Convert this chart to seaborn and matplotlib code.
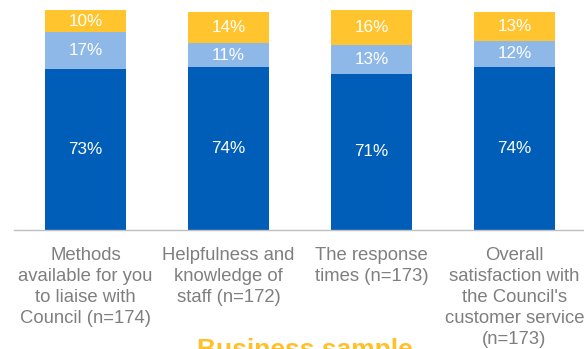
import matplotlib
matplotlib.use("Agg")
import matplotlib.pyplot as plt
import seaborn as sns
import numpy as np
import pandas as pd

# Survey items and satisfaction shares (%)
categories = [
    "Methods\navailable for you\nto liaise with\nCouncil (n=174)",
    "Helpfulness and\nknowledge of\nstaff (n=172)",
    "The response\ntimes (n=173)",
    "Overall\nsatisfaction with\nthe Council's\ncustomer service\n(n=173)",
]
satisfied = [73, 74, 71, 74]
neutral = [17, 11, 13, 12]
dissatisfied = [10, 14, 16, 13]

title = "Business sample"

c_sat = "#005EB8"
c_neu = "#8DB8E8"
c_dis = "#FFC42E"
c_title = "#FFC02A"
c_text = "#7F7F7F"
c_axis = "#BFBFBF"

sns.set_style("white")
plt.rcParams["font.family"] = ["Liberation Sans", "DejaVu Sans"]

df = pd.DataFrame({
    "item": categories,
    "satisfied": satisfied,
    "neutral": neutral,
    "dissatisfied": dissatisfied,
})
df["lvl1"] = df["satisfied"]
df["lvl2"] = df["satisfied"] + df["neutral"]
df["lvl3"] = df["lvl2"] + df["dissatisfied"]

fig = plt.figure(figsize=(5.84, 3.49), dpi=100)
ax = fig.add_axes([14 / 584, (349 - 230) / 349, 572 / 584, 220 / 349])

bw = 0.57
# stacked bars: draw the cumulative totals from the top layer down
for col, colour in [("lvl3", c_dis), ("lvl2", c_neu), ("lvl1", c_sat)]:
    sns.barplot(data=df, x="item", y=col, color=colour, saturation=1,
                width=bw, linewidth=0, ax=ax)

for i, row in df.iterrows():
    segs = [
        (0, row["satisfied"]),
        (row["lvl1"], row["neutral"]),
        (row["lvl2"], row["dissatisfied"]),
    ]
    for base, val in segs:
        ax.text(i, base + val / 2, f"{val}%", ha="center", va="center",
                color="white", fontsize=12.3)

ax.set_xlim(-0.5, 3.5)
ax.set_ylim(0, 100)
ax.set_xlabel("")
ax.set_ylabel("")
ax.set_yticks([])

ax.set_xticks(range(len(categories)))
ax.set_xticklabels(categories, fontsize=13.3, color=c_text, linespacing=1.3)
ax.set_xticks(np.arange(-0.5, 4.0, 1.0), minor=True)
ax.tick_params(axis="x", which="major", length=0, pad=12.5)
ax.tick_params(axis="x", which="minor", length=5, width=1, color=c_axis)

for s in ["left", "top", "right"]:
    ax.spines[s].set_visible(False)
ax.spines["bottom"].set_color(c_axis)
ax.spines["bottom"].set_linewidth(1)

fig.text(304.5 / 584, (349 - 357.5) / 349, title, ha="center", va="baseline",
         fontsize=19, fontweight="bold", color=c_title)

fig.savefig("out.png", dpi=100, facecolor="white")
